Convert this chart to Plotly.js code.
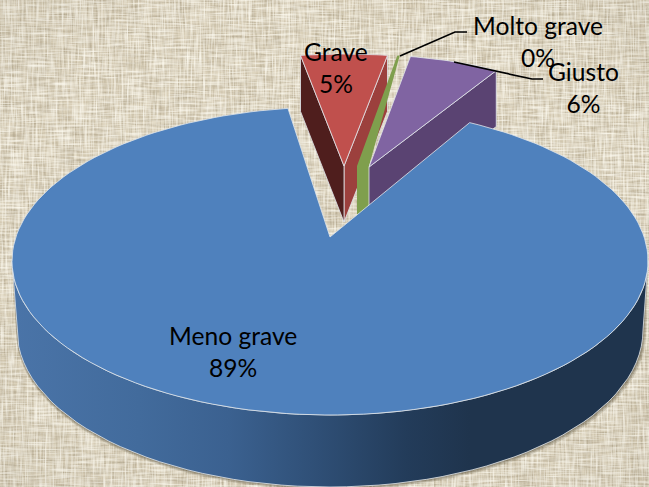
<!DOCTYPE html>
<html><head><meta charset="utf-8">
<script src="https://cdn.plot.ly/plotly-3.0.1.min.js"></script>
<style>
html,body{margin:0;padding:0;width:649px;height:487px;overflow:hidden;background:#DED5BF}
#tex{position:absolute;left:0;top:0}
#chart{position:absolute;left:0;top:0;width:649px;height:487px}
</style></head><body>
<svg id="tex" width="649" height="487" xmlns="http://www.w3.org/2000/svg">
<defs>
<filter id="h" x="0" y="0" width="100%" height="100%"><feTurbulence type="fractalNoise" baseFrequency="0.035 0.5" numOctaves="2" seed="4"/><feColorMatrix values="0 0 0 0 0.42 0 0 0 0 0.36 0 0 0 0 0.25 1.5 0 0 0 -0.6"/></filter>
<filter id="v" x="0" y="0" width="100%" height="100%"><feTurbulence type="fractalNoise" baseFrequency="0.5 0.035" numOctaves="2" seed="9"/><feColorMatrix values="0 0 0 0 0.42 0 0 0 0 0.36 0 0 0 0 0.25 1.5 0 0 0 -0.6"/></filter>
<filter id="l" x="0" y="0" width="100%" height="100%"><feTurbulence type="fractalNoise" baseFrequency="0.04 0.55" numOctaves="2" seed="21"/><feColorMatrix values="0 0 0 0 1 0 0 0 0 0.98 0 0 0 0 0.9 1.6 0 0 0 -0.62"/></filter>
<filter id="l2" x="0" y="0" width="100%" height="100%"><feTurbulence type="fractalNoise" baseFrequency="0.55 0.04" numOctaves="2" seed="33"/><feColorMatrix values="0 0 0 0 1 0 0 0 0 0.98 0 0 0 0 0.9 1.6 0 0 0 -0.62"/></filter>
<radialGradient id="vg" cx="50%" cy="50%" r="72%"><stop offset="70%" stop-color="#8a8472" stop-opacity="0"/><stop offset="100%" stop-color="#8a8472" stop-opacity="0.1"/></radialGradient>
</defs>
<rect width="649" height="487" fill="#DAD0B9"/>
<rect width="649" height="487" filter="url(#h)"/>
<rect width="649" height="487" filter="url(#v)"/>
<rect width="649" height="487" filter="url(#l)"/>
<rect width="649" height="487" filter="url(#l2)"/>
<rect width="649" height="487" fill="url(#vg)"/>
</svg>
<div id="chart"></div>
<script>
// Data
const categories = ["Meno grave", "Grave", "Molto grave", "Giusto"];
const values = [89, 5, 0.15, 5.85];
const pctLabels = ["89%", "5%", "0%", "6%"];

// Geometry and style of the projected pie
const W = 649, H = 487, ROTATION = 30.6, DEPTH = 56, EDGE = "rgba(225,230,235,0.8)";
const mainTop = {cx: 330, cy: 261, a: 318, b: 154};
const mainBot = {cx: 330, cy: 330, a: 313, b: 157};
const mainApex = [330, 237];
const sliceGeom = {
  "Grave":       {apexL: [344, 166], apexR: [344, 166], a: 278, b: 112, face: "#C0504D", wallL: "#4F1E1D", wallR: "#9C403D"},
  "Molto grave": {apexL: [357, 166], apexR: [369, 166], a: 258, b: 112, face: "#7F9F4D", wallL: null, wallR: null},
  "Giusto":      {apexL: [369, 167], apexR: [369, 167], a: 250, b: 112, face: "#8064A2", wallL: null, wallR: "#5A4372"}
};
const rad = d => d * Math.PI / 180;

// angular spans from the values
const total = values.reduce((s, v) => s + v, 0);
let cursor = ROTATION;
const spans = values.map(v => { const s = cursor, e = cursor + v / total * 360; cursor = e; return [s, e]; });

function ringFromApex(apex, el, deg) {        // ray from apex to the ellipse
  const dx = Math.sin(rad(deg)) * el.a, dy = -Math.cos(rad(deg)) * el.b;
  const ox = apex[0] - el.cx, oy = apex[1] - el.cy;
  const A = dx*dx/(el.a*el.a) + dy*dy/(el.b*el.b);
  const B = 2*(ox*dx/(el.a*el.a) + oy*dy/(el.b*el.b));
  const C = ox*ox/(el.a*el.a) + oy*oy/(el.b*el.b) - 1;
  const t = (-B + Math.sqrt(B*B - 4*A*C)) / (2*A);
  return [apex[0] + t*dx, apex[1] + t*dy];
}
function wedgeRim(g, s, e, n) {               // rim of a small slice, centred on its apex
  const pts = [];
  for (let i = 0; i <= n; i++) {
    const d = s + (e - s) * i / n;
    pts.push([g.apexL[0] + g.a*Math.sin(rad(d)), g.apexL[1] - g.b*Math.cos(rad(d))]);
  }
  return pts;
}
function poly(pts, fill, name, line, extra) {
  return Object.assign({type: "scatter", mode: "lines", x: pts.map(p => p[0]), y: pts.map(p => p[1]),
    fill: "toself", fillcolor: fill, line: line || {color: EDGE, width: 1}, name: name, hoverinfo: "name", showlegend: false}, extra || {});
}
const down = (p, d) => [p[0], p[1] + (d === undefined ? DEPTH : d)];
const traces = [];

// Small slices (their spans fall one full turn after the rotation angle)
categories.forEach((c, i) => {
  if (i === 0) return;
  const g = sliceGeom[c];
  const rim = wedgeRim(g, spans[i][0] - 360, spans[i][1] - 360, 16);
  const first = rim[0], last = rim[rim.length - 1];
  if (g.wallR) traces.push(poly([g.apexR, down(g.apexR), down(last), last, g.apexR], g.wallR, c));
  if (g.wallL) traces.push(poly([g.apexL, down(g.apexL), down(first), first, g.apexL], g.wallL, c));
  const face = g.wallL === null && g.wallR === null
    ? [g.apexL, down(g.apexL)].concat([down(g.apexR), g.apexR], rim.slice().reverse(), [g.apexL])
    : [g.apexL].concat(rim, [g.apexL]);
  traces.push(poly(face, g.face, c, g.wallR ? undefined : {width: 0}));
});

// Main slice shadow, wall and top face
const [ms, me] = spans[0];
const frontTop = [], frontBot = [];
for (let d = 90; d <= 270; d += 3) {
  frontTop.push([mainTop.cx + mainTop.a*Math.sin(rad(d)), mainTop.cy - mainTop.b*Math.cos(rad(d))]);
  frontBot.push([mainBot.cx + mainBot.a*Math.sin(rad(d)), mainBot.cy - mainBot.b*Math.cos(rad(d))]);
}
const wallPts = frontTop.concat(frontBot.slice().reverse(), [frontTop[0]]);
[[3,"rgba(70,60,40,0.16)"],[2,"rgba(70,60,40,0.2)"],[1,"rgba(70,60,40,0.26)"]].forEach(([o, col]) => {
  traces.push(poly(frontBot.map(p => [p[0] + (p[0] > 330 ? o : -o*0.3), p[1] + o]).concat(frontTop.slice().reverse()), col, "shadow", {width: 0}, {hoverinfo: "skip"}));
});
traces.push(poly(wallPts, "#3A5F8A", categories[0], {color: "rgba(225,230,235,0.8)", width: 1}, {
  fillgradient: {type: "horizontal", colorscale: [[0, "#4A74A8"], [0.2, "#426B9C"], [0.34, "#3B6190"], [0.48, "#2F4F76"], [0.62, "#233C5A"], [0.72, "#1F344D"], [1, "#1F344D"]]}
}));
const blue = [mainApex];
const rimN = 160;
for (let i = 0; i <= rimN; i++) blue.push(ringFromApex(mainApex, mainTop, ms + (me - ms) * i / rimN));
blue.push(mainApex);
traces.push(poly(blue, "#4F81BD", categories[0], {color: EDGE, width: 1}));

// Leader lines
function leader(pts) {
  return {type: "scatter", mode: "lines", x: pts.map(p => p[0]), y: pts.map(p => p[1]), line: {color: "#000", width: 1.7}, hoverinfo: "skip", showlegend: false};
}
traces.push(leader([[400, 56], [455, 32], [467, 32]]));
traces.push(leader([[454, 62], [532, 79], [543, 79]]));

// Labels
const labelPos = {
  "Meno grave": [233, 351], "Grave": [336, 67], "Molto grave": [538, 41], "Giusto": [583, 87]
};
const font = {family: "Lato, 'Open Sans', sans-serif", size: 24.6, color: "#000"};
const annotations = categories.map((c, i) => ({
  x: labelPos[c][0], y: labelPos[c][1], xref: "x", yref: "y", text: c + "<br>" + pctLabels[i],
  showarrow: false, align: "center", font: font, xanchor: "center", yanchor: "middle"
}));

Plotly.newPlot("chart", traces, {
  width: W, height: H, margin: {l: 0, r: 0, t: 0, b: 0}, paper_bgcolor: "rgba(0,0,0,0)", plot_bgcolor: "rgba(0,0,0,0)",
  xaxis: {range: [0, W], visible: false, fixedrange: true},
  yaxis: {range: [H, 0], visible: false, fixedrange: true},
  showlegend: false, annotations: annotations, hovermode: false
}, {displayModeBar: false, staticPlot: true});
</script>
</body></html>
